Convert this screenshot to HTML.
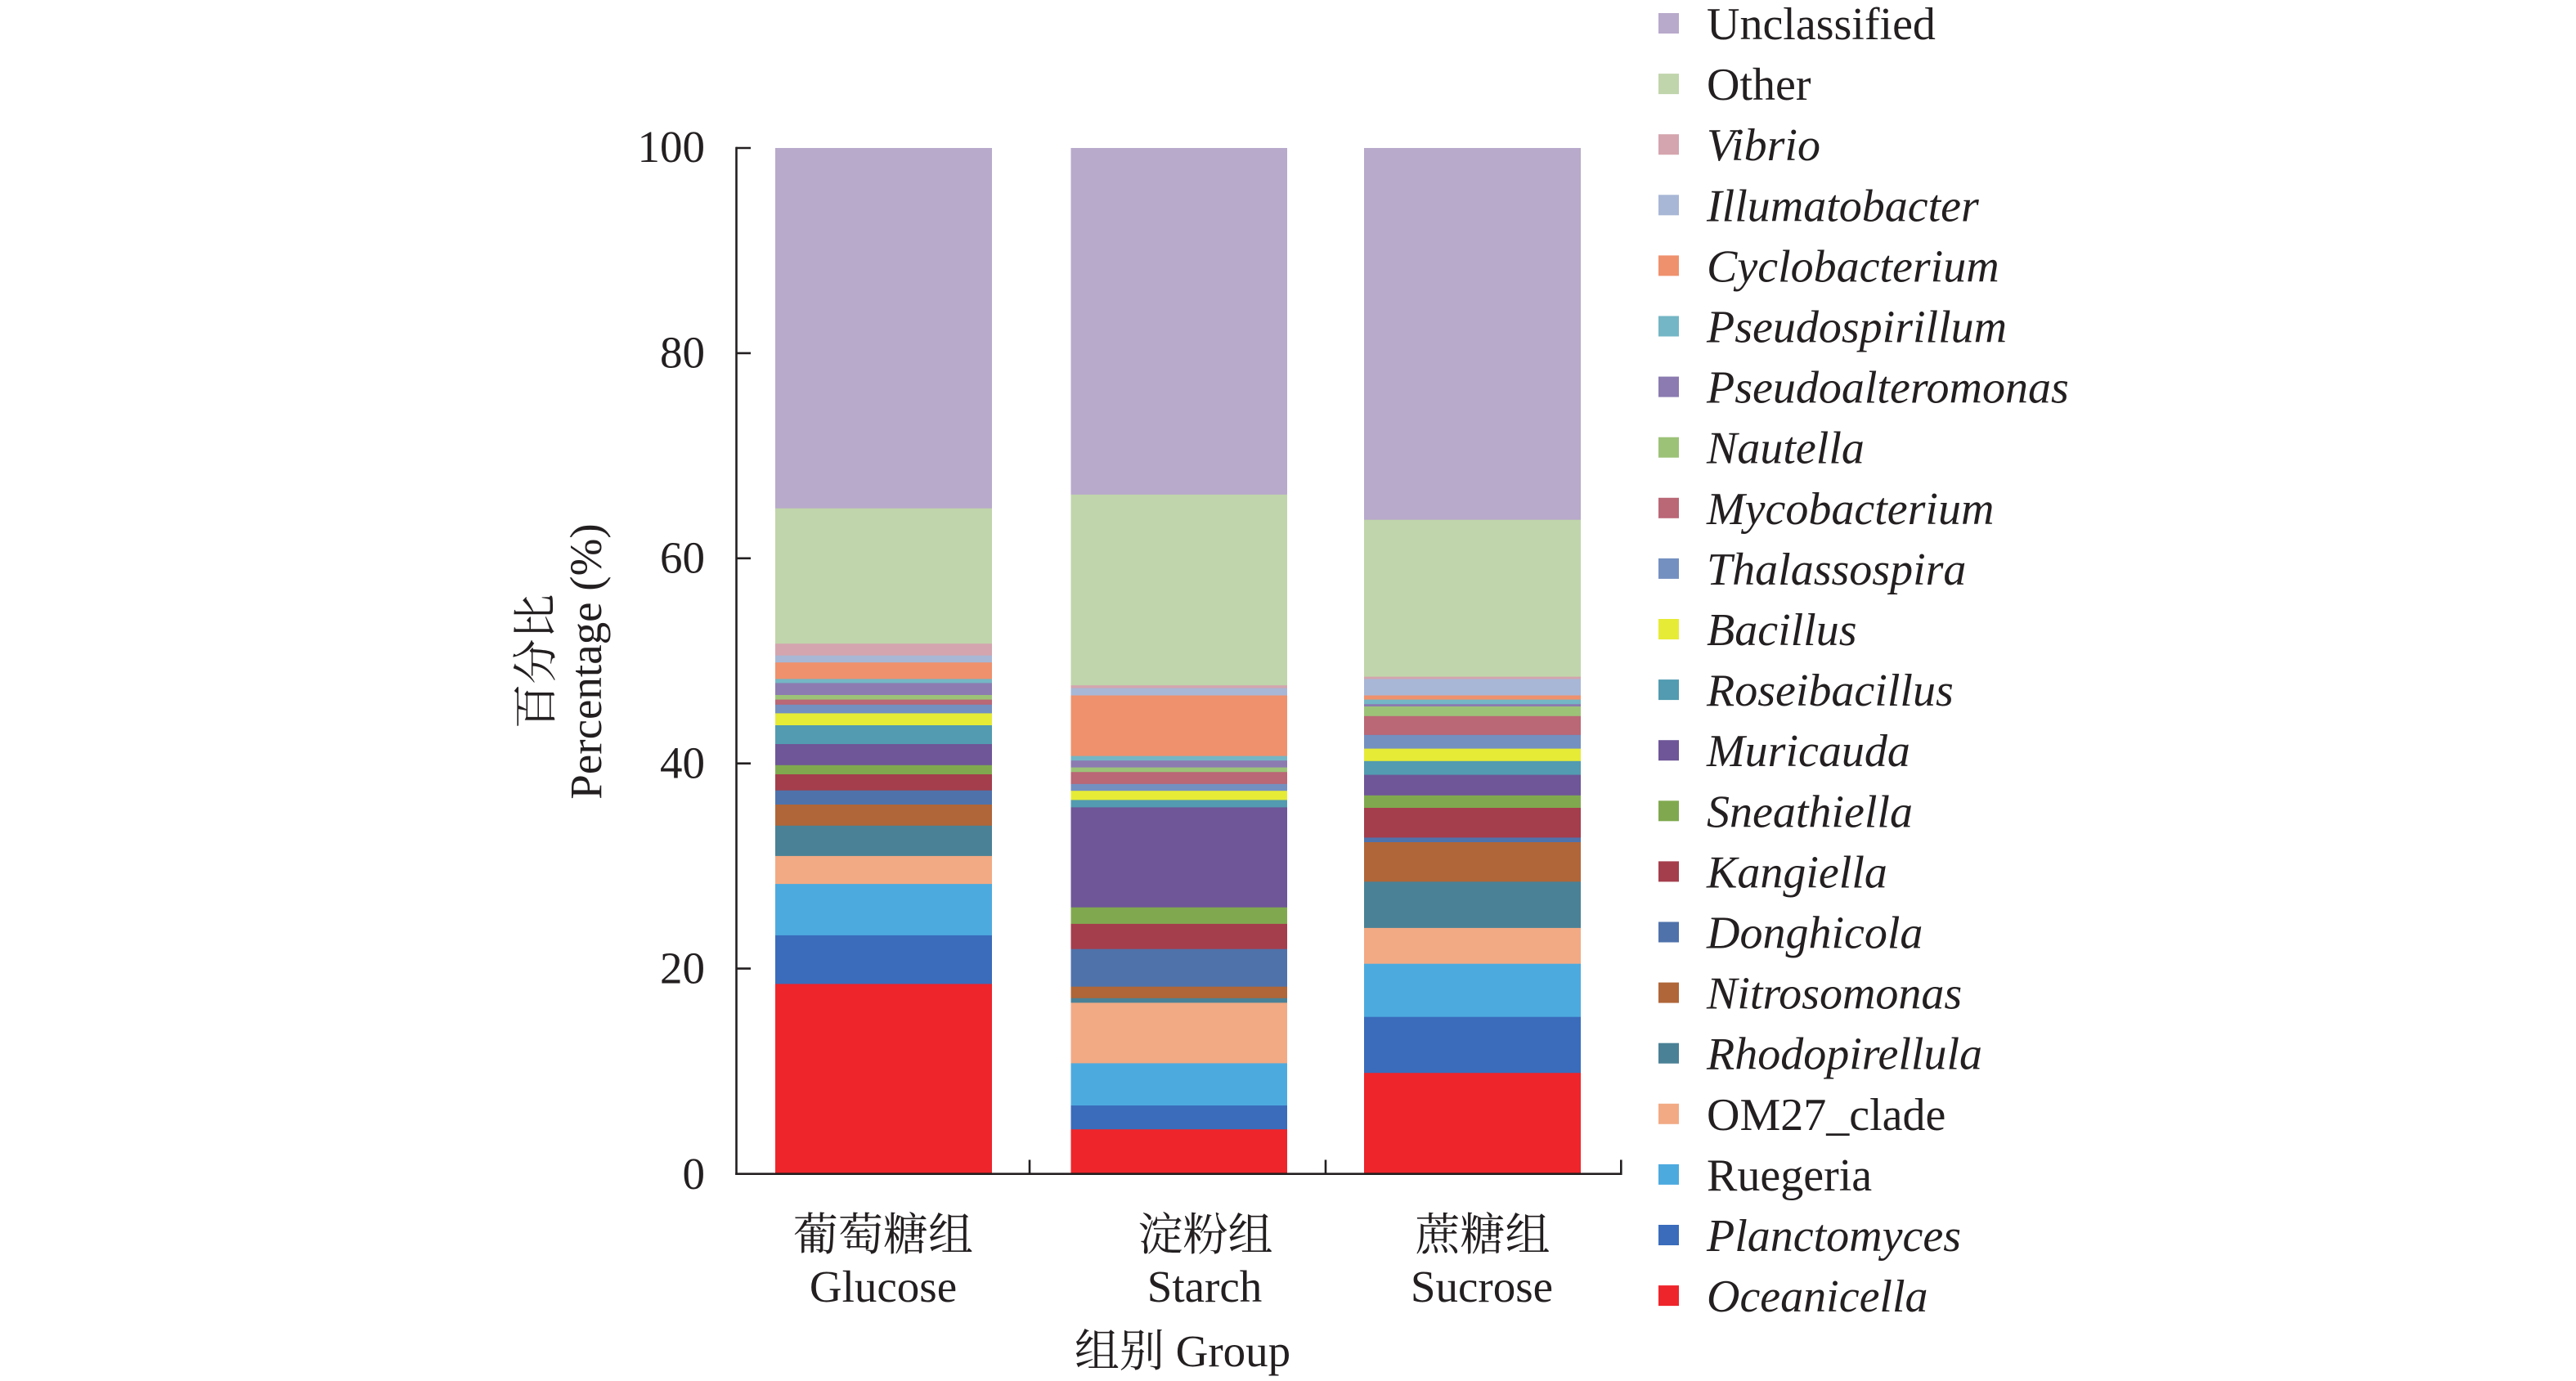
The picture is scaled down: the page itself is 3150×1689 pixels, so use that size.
<!DOCTYPE html>
<html><head><meta charset="utf-8"><style>
html,body{margin:0;padding:0;background:#fff;}
svg{display:block;}
text{fill:#231F20;}
.n{font-family:"Liberation Serif","Noto Serif CJK SC",serif;font-size:55px;}
.c{font-family:"Liberation Serif","Noto Serif CJK SC",serif;font-size:55px;}
.lg{font-family:"Liberation Serif",serif;font-size:56px;}
.i{font-style:italic;}
</style></head><body>
<svg width="3150" height="1689" viewBox="0 0 3150 1689" xmlns="http://www.w3.org/2000/svg">
<rect width="3150" height="1689" fill="#fff"/>
<!-- Bar 1 Glucose -->
<g>
<rect x="948" y="181" width="265" height="1254.5" fill="#B8AACB"/>
<rect x="948" y="621.7" width="265" height="813.8" fill="#C0D5AB"/>
<rect x="948" y="787.2" width="265" height="648.3" fill="#D4A5AE"/>
<rect x="948" y="801.7" width="265" height="633.8" fill="#A8B7D6"/>
<rect x="948" y="810.2" width="265" height="625.3" fill="#EF916D"/>
<rect x="948" y="830.4" width="265" height="605.1" fill="#74B6C5"/>
<rect x="948" y="835.4" width="265" height="600.1" fill="#8B7BB0"/>
<rect x="948" y="850.0" width="265" height="585.5" fill="#9CC278"/>
<rect x="948" y="855.6" width="265" height="579.9" fill="#BA6776"/>
<rect x="948" y="861.8" width="265" height="573.7" fill="#7490C1"/>
<rect x="948" y="872.4" width="265" height="563.1" fill="#E6EB36"/>
<rect x="948" y="887.0" width="265" height="548.5" fill="#529BB0"/>
<rect x="948" y="910.0" width="265" height="525.5" fill="#6E5698"/>
<rect x="948" y="935.8" width="265" height="499.7" fill="#80A94F"/>
<rect x="948" y="947.0" width="265" height="488.5" fill="#A43E4C"/>
<rect x="948" y="966.7" width="265" height="468.8" fill="#4F72AB"/>
<rect x="948" y="984.0" width="265" height="451.5" fill="#B06638"/>
<rect x="948" y="1009.8" width="265" height="425.7" fill="#4A8196"/>
<rect x="948" y="1046.9" width="265" height="388.6" fill="#F2AA84"/>
<rect x="948" y="1081.1" width="265" height="354.4" fill="#4DAADF"/>
<rect x="948" y="1143.9" width="265" height="291.6" fill="#3A6CBB"/>
<rect x="948" y="1203.4" width="265" height="232.1" fill="#EE252B"/>
</g>
<!-- Bar 2 Starch -->
<g>
<rect x="1309.5" y="181" width="264.5" height="1254.5" fill="#B8AACB"/>
<rect x="1309.5" y="604.9" width="264.5" height="830.6" fill="#C0D5AB"/>
<rect x="1309.5" y="838.2" width="264.5" height="597.3" fill="#D4A5AE"/>
<rect x="1309.5" y="841.6" width="264.5" height="593.9" fill="#A8B7D6"/>
<rect x="1309.5" y="850.5" width="264.5" height="585.0" fill="#EF916D"/>
<rect x="1309.5" y="924.6" width="264.5" height="510.9" fill="#74B6C5"/>
<rect x="1309.5" y="930.2" width="264.5" height="505.3" fill="#8B7BB0"/>
<rect x="1309.5" y="938.6" width="264.5" height="496.9" fill="#9CC278"/>
<rect x="1309.5" y="944.2" width="264.5" height="491.3" fill="#BA6776"/>
<rect x="1309.5" y="958.8" width="264.5" height="476.7" fill="#7490C1"/>
<rect x="1309.5" y="967.2" width="264.5" height="468.3" fill="#E6EB36"/>
<rect x="1309.5" y="978.4" width="264.5" height="457.1" fill="#529BB0"/>
<rect x="1309.5" y="987.4" width="264.5" height="448.1" fill="#6E5698"/>
<rect x="1309.5" y="1109.7" width="264.5" height="325.8" fill="#80A94F"/>
<rect x="1309.5" y="1129.9" width="264.5" height="305.6" fill="#A43E4C"/>
<rect x="1309.5" y="1160.7" width="264.5" height="274.8" fill="#4F72AB"/>
<rect x="1309.5" y="1206.7" width="264.5" height="228.8" fill="#B06638"/>
<rect x="1309.5" y="1220.8" width="264.5" height="214.7" fill="#4A8196"/>
<rect x="1309.5" y="1226.4" width="264.5" height="209.1" fill="#F2AA84"/>
<rect x="1309.5" y="1300.4" width="264.5" height="135.1" fill="#4DAADF"/>
<rect x="1309.5" y="1352.0" width="264.5" height="83.5" fill="#3A6CBB"/>
<rect x="1309.5" y="1381.2" width="264.5" height="54.3" fill="#EE252B"/>
</g>
<!-- Bar 3 Sucrose -->
<g>
<rect x="1668" y="181" width="265" height="1254.5" fill="#B8AACB"/>
<rect x="1668" y="635.7" width="265" height="799.8" fill="#C0D5AB"/>
<rect x="1668" y="827.6" width="265" height="607.9" fill="#D4A5AE"/>
<rect x="1668" y="830.4" width="265" height="605.1" fill="#A8B7D6"/>
<rect x="1668" y="850.5" width="265" height="585.0" fill="#EF916D"/>
<rect x="1668" y="855.6" width="265" height="579.9" fill="#74B6C5"/>
<rect x="1668" y="861.2" width="265" height="574.3" fill="#8B7BB0"/>
<rect x="1668" y="864.0" width="265" height="571.5" fill="#9CC278"/>
<rect x="1668" y="875.8" width="265" height="559.7" fill="#BA6776"/>
<rect x="1668" y="898.8" width="265" height="536.7" fill="#7490C1"/>
<rect x="1668" y="915.6" width="265" height="519.9" fill="#E6EB36"/>
<rect x="1668" y="930.8" width="265" height="504.7" fill="#529BB0"/>
<rect x="1668" y="947.6" width="265" height="487.9" fill="#6E5698"/>
<rect x="1668" y="972.8" width="265" height="462.7" fill="#80A94F"/>
<rect x="1668" y="988.0" width="265" height="447.5" fill="#A43E4C"/>
<rect x="1668" y="1024.4" width="265" height="411.1" fill="#4F72AB"/>
<rect x="1668" y="1030.0" width="265" height="405.5" fill="#B06638"/>
<rect x="1668" y="1078.3" width="265" height="357.2" fill="#4A8196"/>
<rect x="1668" y="1134.9" width="265" height="300.6" fill="#F2AA84"/>
<rect x="1668" y="1178.7" width="265" height="256.8" fill="#4DAADF"/>
<rect x="1668" y="1243.7" width="265" height="191.8" fill="#3A6CBB"/>
<rect x="1668" y="1312.2" width="265" height="123.3" fill="#EE252B"/>
</g>
<!-- Axes -->
<g stroke="#231F20" stroke-width="2.6" fill="none">
<line x1="900.5" y1="179.7" x2="900.5" y2="1436.8"/>
<line x1="899.2" y1="1435.7" x2="1983.5" y2="1435.7"/>
<line x1="900" y1="181" x2="918" y2="181"/>
<line x1="900" y1="431.9" x2="918" y2="431.9"/>
<line x1="900" y1="682.8" x2="918" y2="682.8"/>
<line x1="900" y1="933.7" x2="918" y2="933.7"/>
<line x1="900" y1="1184.6" x2="918" y2="1184.6"/>
<line x1="1259" y1="1418.5" x2="1259" y2="1435.5"/>
<line x1="1621" y1="1418.5" x2="1621" y2="1435.5"/>
<line x1="1982.3" y1="1418.5" x2="1982.3" y2="1436.8"/>
</g>
<!-- Y tick labels -->
<g class="n" text-anchor="end">
<text x="862" y="198">100</text>
<text x="862" y="449.5">80</text>
<text x="862" y="700.5">60</text>
<text x="862" y="951.5">40</text>
<text x="862" y="1202.5">20</text>
<text x="862" y="1454">0</text>
</g>
<!-- Y axis title -->
<text class="c" text-anchor="middle" transform="translate(674,809) rotate(-90)">百分比</text>
<text class="n" text-anchor="middle" transform="translate(735,809) rotate(-90)">Percentage (%)</text>
<!-- X labels -->
<g class="c" text-anchor="middle">
<text x="1080" y="1529">葡萄糖组</text>
<text x="1474" y="1529">淀粉组</text>
<text x="1813" y="1529">蔗糖组</text>
<text x="1080" y="1592">Glucose</text>
<text x="1473" y="1592">Starch</text>
<text x="1812" y="1592">Sucrose</text>
<text x="1446" y="1671">组别 Group</text>
</g>
<!-- Legend -->
<g>
<rect x="2028" y="16" width="25" height="25" fill="#B8AACB"/>
<rect x="2028" y="90.1" width="25" height="25" fill="#C0D5AB"/>
<rect x="2028" y="164.2" width="25" height="25" fill="#D4A5AE"/>
<rect x="2028" y="238.3" width="25" height="25" fill="#A8B7D6"/>
<rect x="2028" y="312.4" width="25" height="25" fill="#EF916D"/>
<rect x="2028" y="386.5" width="25" height="25" fill="#74B6C5"/>
<rect x="2028" y="460.6" width="25" height="25" fill="#8B7BB0"/>
<rect x="2028" y="534.7" width="25" height="25" fill="#9CC278"/>
<rect x="2028" y="608.8" width="25" height="25" fill="#BA6776"/>
<rect x="2028" y="682.9" width="25" height="25" fill="#7490C1"/>
<rect x="2028" y="757.0" width="25" height="25" fill="#E6EB36"/>
<rect x="2028" y="831.1" width="25" height="25" fill="#529BB0"/>
<rect x="2028" y="905.2" width="25" height="25" fill="#6E5698"/>
<rect x="2028" y="979.3" width="25" height="25" fill="#80A94F"/>
<rect x="2028" y="1053.4" width="25" height="25" fill="#A43E4C"/>
<rect x="2028" y="1127.5" width="25" height="25" fill="#4F72AB"/>
<rect x="2028" y="1201.6" width="25" height="25" fill="#B06638"/>
<rect x="2028" y="1275.7" width="25" height="25" fill="#4A8196"/>
<rect x="2028" y="1349.8" width="25" height="25" fill="#F2AA84"/>
<rect x="2028" y="1423.9" width="25" height="25" fill="#4DAADF"/>
<rect x="2028" y="1498.0" width="25" height="25" fill="#3A6CBB"/>
<rect x="2028" y="1572.1" width="25" height="25" fill="#EE252B"/>
</g>
<g class="lg">
<text x="2087" y="48">Unclassified</text>
<text x="2087" y="122.1">Other</text>
<text x="2087" y="196.2" class="lg i">Vibrio</text>
<text x="2087" y="270.3" class="lg i">Illumatobacter</text>
<text x="2087" y="344.4" class="lg i">Cyclobacterium</text>
<text x="2087" y="418.5" class="lg i">Pseudospirillum</text>
<text x="2087" y="492.6" class="lg i">Pseudoalteromonas</text>
<text x="2087" y="566.7" class="lg i">Nautella</text>
<text x="2087" y="640.8" class="lg i">Mycobacterium</text>
<text x="2087" y="714.9" class="lg i">Thalassospira</text>
<text x="2087" y="789.0" class="lg i">Bacillus</text>
<text x="2087" y="863.1" class="lg i">Roseibacillus</text>
<text x="2087" y="937.2" class="lg i">Muricauda</text>
<text x="2087" y="1011.3" class="lg i">Sneathiella</text>
<text x="2087" y="1085.4" class="lg i">Kangiella</text>
<text x="2087" y="1159.5" class="lg i">Donghicola</text>
<text x="2087" y="1233.6" class="lg i">Nitrosomonas</text>
<text x="2087" y="1307.7" class="lg i">Rhodopirellula</text>
<text x="2087" y="1381.8">OM27_clade</text>
<text x="2087" y="1455.9">Ruegeria</text>
<text x="2087" y="1530.0" class="lg i">Planctomyces</text>
<text x="2087" y="1604.1" class="lg i">Oceanicella</text>
</g>
</svg>
</body></html>
